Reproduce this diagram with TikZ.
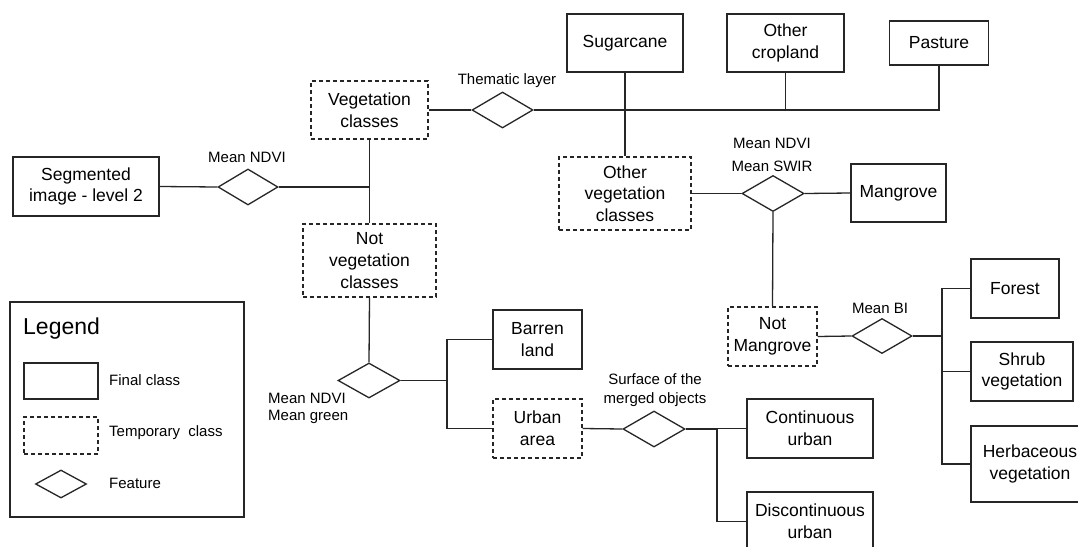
\documentclass[tikz,border=0pt]{standalone}
\usepackage{fontspec}
\setmainfont{Liberation Sans}
\usetikzlibrary{shapes.geometric}
\newcommand\mainfnt{\fontsize{17.5}{21.7}\selectfont}
\newcommand\smallfnt{\fontsize{15}{19}\selectfont}
\newcommand\legfnt{\fontsize{23}{26}\selectfont}
\begin{document}
\begin{tikzpicture}[x=1pt,y=-1pt,
  line/.style={draw=black!85, line width=1.3pt},
  final/.style={draw=black!85, line width=1.3pt, rectangle, inner sep=0pt, align=center, font=\mainfnt},
  temp/.style={final, dash pattern=on 4pt off 3pt},
  feat/.style={draw=black!85, line width=1.3pt, diamond, inner sep=0pt},
  lbl/.style={font=\smallfnt, inner sep=0pt}]
\clip (0,0) rectangle (1078,546);
\fill[white] (0,0) rectangle (1078,546);

% main nodes
\node[final, minimum width=146pt, minimum height=59pt] (seg) at (86,186.5) {Segmented\\image - level 2};
\node[feat, minimum width=60pt, minimum height=36pt] (d1) at (248,187) {};
\node[lbl] (l1) at (247,157) {Mean NDVI};

\node[temp, minimum width=117pt, minimum height=58pt] (veg) at (369.5,110) {Vegetation\\classes};
\node[temp, minimum width=133pt, minimum height=73pt] (notveg) at (369.5,260.5) {Not\\vegetation\\classes};

\node[feat, minimum width=61pt, minimum height=36pt] (d2) at (502.5,110) {};
\node[lbl] (l2) at (507,81) {Thematic layer};

\node[final, minimum width=116pt, minimum height=58pt] (sug) at (625,43) {Sugarcane};
\node[final, minimum width=117pt, minimum height=58pt] (ocrop) at (785.5,43) {Other\\cropland};
\node[final, minimum width=99pt, minimum height=44pt] (past) at (939,43) {Pasture};

\node[temp, minimum width=132pt, minimum height=73pt] (oveg) at (625,193.5) {Other\\vegetation\\classes};
\node[feat, minimum width=62pt, minimum height=36pt] (d3) at (773,193.5) {};
\node[lbl] (l3a) at (772,143) {Mean NDVI};
\node[lbl] (l3b) at (772,166) {Mean SWIR};
\node[final, minimum width=95pt, minimum height=58pt] (mang) at (898.5,193) {Mangrove};

\node[temp, minimum width=89pt, minimum height=59pt] (notmang) at (772.5,336.5) {Not\\Mangrove};
\node[feat, minimum width=60pt, minimum height=35pt] (d4) at (882,336) {};
\node[lbl] (l4) at (880,308) {Mean BI};

\node[final, minimum width=88pt, minimum height=59pt] (forest) at (1015,288.5) {Forest};
\node[final, minimum width=102pt, minimum height=59pt] (shrub) at (1022,371.5) {Shrub\\vegetation};
\node[final, minimum width=118pt, minimum height=76pt] (herb) at (1030,464) {Herbaceous\\vegetation};

\node[feat, minimum width=62pt, minimum height=35pt] (d5) at (369,380.5) {};
\node[lbl, anchor=west] (l5a) at (268,398) {Mean NDVI};
\node[lbl, anchor=west] (l5b) at (268,417) {Mean green};

\node[final, minimum width=89pt, minimum height=59pt] (barren) at (537.5,339.5) {Barren\\land};
\node[temp, minimum width=89pt, minimum height=59pt] (urban) at (537.5,428.5) {Urban\\area};
\node[feat, minimum width=62pt, minimum height=36pt] (d6) at (654,429) {};
\node[lbl] (l6a) at (655,379) {Surface of the};
\node[lbl] (l6b) at (655,400) {merged objects};
\node[final, minimum width=126pt, minimum height=59pt] (cont) at (810,428.5) {Continuous\\urban};
\node[final, minimum width=126pt, minimum height=59pt] (discont) at (810,521.5) {Discontinuous\\urban};

% junction coordinates
\coordinate (j1) at (369,187);
\coordinate (j2) at (942,336);
\coordinate (j3) at (447,380.5);
\coordinate (j4) at (717,429);

% connectors
\draw[line] (seg.east) -- (d1.west);
\draw[line] (d1.east) -- (j1);
\draw[line] (veg.south) -- (notveg.north);
\draw[line] (veg.east) -- (d2.west);
\draw[line] (d2.east) -| (past.south);
\draw[line] (ocrop.south) -- (ocrop.south |- d2.east);
\draw[line] (sug.south) -- (oveg.north);
\draw[line] (oveg.east) -- (d3.west);
\draw[line] (d3.east) -- (mang.west);
\draw[line] (d3.south) -- (notmang.north);
\draw[line] (notmang.east) -- (d4.west);
\draw[line] (d4.east) -- (j2);
\draw[line] (forest.west) -| (j2);
\draw[line] (herb.west) -| (j2);
\draw[line] (shrub.west) -- (shrub.west -| j2);
\draw[line] (notveg.south) -- (d5.north);
\draw[line] (d5.east) -- (j3);
\draw[line] (barren.west) -| (j3);
\draw[line] (urban.west) -| (j3);
\draw[line] (urban.east) -- (d6.west);
\draw[line] (d6.east) -- (j4);
\draw[line] (cont.west) -| (j4);
\draw[line] (discont.west) -| (j4);

% legend
\node[draw=black!85, line width=1.3pt, minimum width=234pt, minimum height=215pt, inner sep=0pt] (legend) at (127,409.5) {};
\node[font=\legfnt, inner sep=0pt, anchor=west] (legtitle) at (23,329) {Legend};
\node[final, minimum width=74pt, minimum height=36pt] (legfinal) at (61,381) {};
\node[lbl, anchor=west] (legfinaltxt) at (109,380) {Final class};
\node[temp, minimum width=74pt, minimum height=37pt] (legtemp) at (61,435.5) {};
\node[lbl, anchor=west] (legtemptxt) at (109,433) {Temporary~ class};
\node[feat, minimum width=51pt, minimum height=28pt] (legfeat) at (61,484) {};
\node[lbl, anchor=west] (legfeattxt) at (109,483) {Feature};
\end{tikzpicture}
\end{document}
